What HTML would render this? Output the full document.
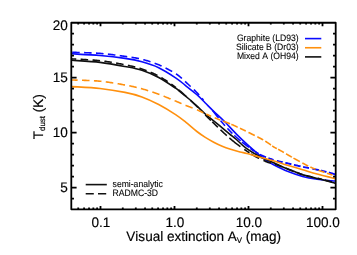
<!DOCTYPE html>
<html><head><meta charset="utf-8"><title>T_dust vs A_V</title>
<style>html,body{margin:0;padding:0;background:#fff}body{width:357px;height:255px;overflow:hidden}svg{display:block}text{font-family:"Liberation Sans",sans-serif;fill:#000;text-rendering:geometricPrecision;font-kerning:none}</style></head><body>
<svg width="357" height="255" viewBox="0 0 357 255">
<rect width="357" height="255" fill="#fff"/>
<g fill="none" stroke-width="1.6" stroke-linejoin="round">
<path d="M72.00 53.80 C76.67 54.08 91.17 54.73 100.00 55.50 C108.83 56.27 118.02 57.35 125.00 58.40 C131.98 59.45 136.28 60.25 141.90 61.80 C147.52 63.35 153.08 65.03 158.70 67.70 C164.32 70.37 171.22 74.90 175.60 77.80 C179.98 80.70 181.45 82.28 185.00 85.10 C188.55 87.92 193.52 91.72 196.90 94.70 C200.28 97.68 202.50 100.23 205.30 103.00 C208.10 105.77 210.62 108.33 213.70 111.30 C216.78 114.27 220.02 117.00 223.80 120.80 C227.58 124.60 232.42 130.08 236.40 134.10 C240.38 138.12 243.92 141.43 247.70 144.90 C251.48 148.37 256.05 152.33 259.10 154.90 C262.15 157.47 263.65 158.70 266.00 160.30 C268.35 161.90 269.63 162.67 273.20 164.50 C276.77 166.33 282.50 169.32 287.40 171.30 C292.30 173.28 297.65 175.08 302.60 176.40 C307.55 177.72 312.25 178.48 317.10 179.20 C321.95 179.92 328.62 180.40 331.70 180.70 C334.78 181.00 334.95 180.95 335.60 181.00" stroke="#0a0aff"/>
<path d="M72.18 52.31 L72.63 52.32 L73.36 52.35 L74.18 52.37 L75.08 52.40 L76.06 52.42 L77.10 52.45 L78.21 52.48 L79.37 52.51 L79.72 52.52 M84.10 52.65 L84.44 52.66 L85.78 52.71 L87.13 52.75 L88.49 52.80 L89.85 52.85 L91.21 52.91 L91.64 52.93 M96.02 53.14 L96.45 53.16 L97.68 53.24 L98.87 53.32 L100.00 53.40 L101.11 53.49 L102.21 53.58 L103.32 53.68 L103.55 53.71 M107.90 54.16 L108.86 54.26 L109.95 54.39 L111.04 54.52 L112.12 54.65 L113.19 54.79 L114.26 54.92 L115.31 55.06 L115.40 55.07 M119.74 55.66 L120.37 55.75 L121.34 55.88 L122.28 56.02 L123.21 56.15 L124.12 56.28 L125.00 56.40 L125.86 56.52 L126.69 56.64 L127.22 56.71 M131.55 57.32 L131.94 57.38 L132.62 57.48 L133.30 57.59 L133.96 57.69 L134.62 57.80 L135.28 57.91 L135.93 58.03 L136.57 58.14 L137.22 58.27 L137.87 58.39 L138.52 58.53 L138.99 58.63 M143.25 59.64 L143.30 59.66 L144.00 59.84 L144.70 60.03 L145.40 60.22 L146.10 60.41 L146.80 60.61 L147.50 60.82 L148.20 61.03 L148.90 61.24 L149.60 61.46 L150.30 61.68 L150.50 61.75 M154.63 63.18 L155.20 63.39 L155.90 63.66 L156.60 63.94 L157.30 64.22 L158.00 64.51 L158.70 64.80 L159.41 65.10 L160.13 65.42 L160.86 65.75 L161.60 66.09 L161.60 66.09 M165.54 68.00 L166.11 68.28 L166.87 68.67 L167.61 69.06 L168.35 69.45 L169.08 69.84 L169.81 70.23 L170.52 70.62 L171.22 71.01 L171.90 71.39 L172.20 71.56 M175.95 73.82 L176.13 73.94 L176.64 74.27 L177.12 74.60 L177.57 74.92 L178.01 75.23 L178.42 75.54 L178.82 75.85 L179.20 76.15 L179.56 76.45 L179.92 76.75 L180.27 77.05 L180.61 77.35 L180.95 77.65 L181.29 77.96 L181.62 78.27 L181.86 78.50 M185.08 81.47 L185.45 81.80 L185.92 82.22 L186.40 82.66 L186.89 83.11 L187.40 83.56 L187.91 84.03 L188.43 84.51 L188.96 85.00 L189.49 85.49 L190.02 85.98 L190.56 86.48 L190.65 86.57 M193.83 89.58 L194.20 89.94 L194.69 90.41 L195.17 90.87 L195.63 91.33 L196.07 91.76 L196.49 92.19 L196.90 92.60 L197.29 92.99 L197.65 93.38 L198.00 93.75 L198.34 94.10 L198.66 94.45 L198.97 94.79 L199.12 94.96 M201.96 98.29 L202.20 98.59 L202.48 98.92 L202.76 99.25 L203.05 99.60 L203.36 99.95 L203.50 100.12 M212.40 110.38 L212.62 110.65 L213.00 111.10 L213.38 111.56 L213.76 112.02 L214.15 112.49 L214.53 112.97 L214.92 113.45 L215.30 113.93 L215.69 114.42 L216.08 114.91 L216.47 115.40 L216.86 115.89 L217.25 116.38 L217.64 116.88 L218.03 117.37 L218.41 117.86 L218.50 117.96 M220.70 120.70 L220.71 120.72 L221.09 121.17 L221.46 121.62 L221.83 122.07 L222.20 122.50 L222.57 122.93 L222.93 123.35 L223.30 123.78 L223.67 124.19 L224.03 124.61 L224.40 125.02 L224.76 125.43 L225.00 125.70 M227.40 128.33 L227.62 128.56 L227.96 128.93 L228.31 129.30 L228.65 129.66 L228.98 130.01 L229.31 130.36 L229.64 130.70 L229.97 131.04 L230.29 131.37 L230.60 131.70 L230.91 132.02 L231.21 132.33 L231.50 132.63 L231.79 132.92 L232.07 133.20 L232.35 133.48 L232.40 133.53 M234.30 135.37 L234.46 135.51 L234.72 135.76 L234.98 136.00 L235.24 136.24 L235.51 136.49 L235.78 136.73 L236.05 136.98 L236.33 137.23 L236.61 137.48 L236.90 137.74 L237.20 138.00 L237.50 138.26 L237.79 138.52 L238.07 138.77 L238.36 139.02 L238.64 139.27 L238.92 139.52 L239.20 139.76 L239.48 140.00 L239.76 140.25 L240.05 140.49 L240.34 140.74 L240.60 140.96 M241.90 142.03 L242.23 142.29 L242.58 142.57 L242.94 142.85 L243.32 143.14 L243.72 143.44 L244.13 143.75 L244.55 144.07 L245.00 144.40 L245.47 144.74 L245.95 145.11 L246.46 145.48 L246.99 145.87 L247.53 146.27 L248.08 146.69 L248.65 147.11 L249.00 147.37" stroke="#0a0aff"/>
<path d="M250.40 148.39 L250.43 148.41 L251.04 148.85 L251.66 149.29 L252.28 149.74 L252.91 150.17 L253.54 150.61 L254.17 151.04 L254.20 151.06 M255.60 151.99 L256.05 152.28 L256.68 152.68 L257.29 153.06 L257.90 153.42 L258.40 153.71 M259.80 154.47 L260.27 154.72 L260.86 155.02 L261.45 155.31 L262.04 155.59 L262.62 155.86 L263.21 156.12 L263.80 156.38 L264.38 156.63 L264.97 156.87 L265.56 157.11 L266.00 157.28 M268.40 158.18 L268.49 158.21 L269.08 158.42 L269.67 158.62 L270.26 158.82 L270.84 159.02 L271.43 159.22 L272.02 159.41 L272.61 159.61 L273.20 159.80 L273.60 159.93 M276.80 160.85 L277.30 160.98 L277.89 161.13 L278.47 161.27 L279.06 161.41 L279.64 161.55 L280.23 161.69 L280.82 161.82 L281.41 161.95 L282.00 162.08 L282.59 162.21 L282.60 162.22 M285.30 162.82 L285.58 162.88 L286.18 163.02 L286.79 163.16 L287.40 163.30 L288.01 163.45 L288.63 163.59 L289.26 163.74 L289.88 163.89 L290.51 164.04 L291.15 164.19 L291.40 164.25 M293.90 164.84 L294.34 164.94 L294.98 165.09 L295.62 165.24 L296.27 165.38 L296.91 165.53 L297.55 165.68 L298.19 165.82 L298.83 165.97 L299.46 166.11 L300.10 166.25 L300.60 166.36 M303.10 166.91 L303.22 166.93 L303.83 167.06 L304.45 167.19 L305.06 167.31 L305.66 167.43 L306.27 167.55 L306.88 167.67 L307.48 167.79 L308.08 167.90 L308.69 168.02 L309.00 168.08 M312.40 168.73 L312.88 168.82 L313.48 168.94 L314.08 169.06 L314.69 169.18 L315.29 169.31 L315.89 169.44 L316.49 169.57 L317.10 169.70 L317.72 169.84 L318.35 169.98 L318.99 170.13 L319.00 170.13 M320.80 170.55 L320.99 170.60 L321.67 170.76 L322.36 170.93 L323.04 171.09 L323.72 171.26 L324.39 171.42 L325.06 171.59 L325.72 171.75 L326.37 171.91 L326.50 171.95 M328.80 172.53 L329.36 172.68 L329.88 172.81 L330.39 172.95 L330.86 173.07 L331.30 173.19 L331.70 173.30 L332.07 173.40 L332.41 173.50 L332.73 173.60 L333.01 173.69 L333.28 173.78 L333.52 173.86 L333.74 173.94 L333.94 174.01 L334.12 174.08 L334.28 174.15 L334.43 174.21 L334.56 174.28 L334.68 174.33 L334.79 174.39 L334.89 174.44 L334.99 174.49 L335.07 174.54 L335.15 174.58 L335.23 174.62 L335.30 174.66 L335.37 174.70 L335.45 174.73 L335.52 174.77 L335.60 174.80" stroke="#0a0aff" stroke-width="1.9"/>
<path d="M72.00 60.30 C76.67 60.65 91.17 61.37 100.00 62.40 C108.83 63.43 118.02 65.18 125.00 66.50 C131.98 67.82 136.28 68.47 141.90 70.30 C147.52 72.13 153.08 74.52 158.70 77.50 C164.32 80.48 172.05 85.83 175.60 88.20 C179.15 90.57 177.87 89.98 180.00 91.70 C182.13 93.42 185.58 96.10 188.40 98.50 C191.22 100.90 194.08 103.52 196.90 106.10 C199.72 108.68 202.30 111.38 205.30 114.00 C208.30 116.62 212.08 119.50 214.90 121.80 C217.72 124.10 219.78 125.80 222.20 127.80 C224.62 129.80 227.03 131.85 229.40 133.80 C231.77 135.75 233.63 137.10 236.40 139.50 C239.17 141.90 242.22 145.42 246.00 148.20 C249.78 150.98 254.57 153.80 259.10 156.20 C263.63 158.60 268.48 160.47 273.20 162.60 C277.92 164.73 283.77 167.47 287.40 169.00 C291.03 170.53 292.47 170.83 295.00 171.80 C297.53 172.77 298.92 173.70 302.60 174.80 C306.28 175.90 312.25 177.15 317.10 178.40 C321.95 179.65 328.62 181.45 331.70 182.30 C334.78 183.15 334.95 183.30 335.60 183.50" stroke="#101010"/>
<path d="M72.00 58.90 L72.63 58.94 L73.36 58.98 L74.18 59.02 L75.08 59.07 L76.06 59.12 L76.23 59.13 M80.60 59.34 L81.83 59.41 L83.12 59.47 L84.44 59.54 L85.78 59.62 L87.13 59.70 L88.14 59.76 M92.51 60.04 L92.55 60.05 L93.88 60.14 L95.18 60.25 L96.45 60.35 L97.68 60.46 L98.87 60.58 L100.00 60.70 L100.03 60.70 M104.38 61.24 L104.43 61.25 L105.54 61.40 L106.65 61.56 L107.76 61.72 L108.86 61.89 L109.95 62.06 L111.04 62.24 L111.84 62.37 M116.16 63.12 L116.35 63.15 L117.38 63.34 L118.39 63.53 L119.39 63.71 L120.37 63.90 L121.34 64.08 L122.28 64.27 L123.21 64.45 L123.58 64.52 M127.87 65.38 L128.29 65.46 L129.05 65.62 L129.80 65.78 L130.52 65.93 L131.24 66.09 L131.94 66.24 L132.62 66.40 L133.30 66.55 L133.96 66.71 L134.62 66.87 L135.24 67.03 M139.45 68.21 L139.85 68.34 L140.52 68.55 L141.20 68.77 L141.90 69.00 L142.60 69.24 L143.30 69.48 L144.00 69.72 L144.70 69.97 L145.40 70.22 L146.10 70.47 L146.60 70.66 M150.67 72.26 L151.00 72.40 L151.70 72.70 L152.40 73.00 L153.10 73.31 L153.80 73.63 L154.50 73.96 L155.20 74.30 L155.90 74.64 L156.60 74.99 L157.30 75.35 L157.51 75.46 M161.33 77.60 L161.56 77.74 L162.28 78.18 L163.01 78.63 L163.75 79.09 L164.48 79.56 L165.21 80.04 L165.94 80.52 L166.67 81.01 L167.40 81.50 L167.68 81.69 M171.26 84.20 L171.66 84.49 L172.35 84.99 L173.02 85.48 L173.68 85.97 L174.33 86.45 L174.97 86.93 L175.60 87.40 L176.00 87.70 M178.50 89.69 L178.61 89.78 L179.19 90.26 L179.76 90.75 L180.33 91.23 L180.89 91.72 L181.44 92.20 L181.99 92.68 L182.53 93.16 L183.06 93.64 L183.58 94.11 L184.10 94.58 L184.60 95.04 L185.10 95.50 L185.60 95.95 L186.00 96.32 M190.50 100.39 L190.83 100.68 L191.20 101.02 L191.56 101.34 L191.91 101.67 L192.25 101.98 L192.59 102.30 L192.93 102.61 L193.26 102.91 L193.58 103.22 L193.91 103.53 L194.23 103.83 L194.56 104.14 L194.88 104.45 L195.21 104.76 L195.54 105.08 L195.87 105.40 L196.21 105.73 L196.55 106.06 L196.90 106.40 L197.25 106.74 L197.60 107.09 L197.95 107.44 L198.00 107.49 M205.20 114.90 L205.30 115.00 L205.68 115.38 L206.06 115.76 L206.45 116.15 L206.84 116.54 L207.24 116.93 L207.64 117.33 L208.05 117.73 L208.46 118.13 L208.86 118.53 L209.28 118.93 L209.69 119.33 L210.10 119.74 L210.51 120.14 L210.90 120.52 M212.30 121.88 L212.56 122.13 L212.96 122.52 L213.36 122.91 L213.75 123.29 L214.14 123.66 L214.52 124.03 L214.90 124.40 L215.27 124.76 L215.64 125.12 L216.01 125.47 L216.37 125.82 L216.73 126.16 L217.08 126.51 L217.43 126.85 L217.79 127.19 L217.90 127.30 M220.50 129.78 L220.54 129.81 L220.88 130.14 L221.22 130.46 L221.56 130.78 L221.91 131.11 L222.25 131.43 L222.60 131.75 L222.95 132.08 L223.30 132.40 L223.65 132.73 L224.01 133.05 L224.36 133.38 L224.71 133.70 L225.07 134.03 L225.42 134.36 L225.78 134.68 L226.14 135.01 L226.49 135.33 L226.80 135.61 M229.40 137.94 L229.69 138.19 L230.05 138.50 L230.40 138.81 L230.75 139.11 L231.10 139.41 L231.45 139.71 L231.80 140.00 L232.15 140.29 L232.50 140.58 L232.85 140.87 L233.20 141.15 L233.55 141.44 L233.90 141.72 L234.25 142.00 L234.60 142.28 L234.95 142.56 L235.30 142.83 L235.65 143.11 L235.99 143.38 L236.34 143.64 L236.68 143.91 L237.03 144.17 L237.37 144.43 L237.71 144.69 L238.04 144.94 L238.38 145.19 L238.71 145.44 L239.03 145.68 L239.36 145.93 L239.68 146.16 L240.00 146.40 L240.31 146.63 L240.40 146.69 M244.30 149.41 L244.35 149.45 L244.64 149.64 L244.92 149.83 L245.21 150.02 L245.50 150.21 L245.79 150.40 L246.09 150.60 L246.39 150.79 L246.69 151.00 L247.00 151.20 L247.31 151.41 L247.62 151.61 L247.92 151.82 L248.23 152.03 L248.53 152.23 L248.84 152.44 L249.14 152.65 L249.40 152.83 M251.00 153.90 L251.01 153.91 L251.33 154.12 L251.66 154.33 L252.00 154.54 L252.34 154.76 L252.70 154.98 L253.06 155.19 L253.42 155.41 L253.80 155.63 L254.19 155.85 L254.59 156.08 L255.00 156.30 L255.43 156.53 L255.88 156.77 L256.35 157.01 L256.84 157.26 L257.34 157.52 L257.85 157.78 L258.38 158.04 L258.92 158.31 L259.10 158.40 M263.40 160.44 L263.80 160.62 L264.31 160.85 L264.81 161.07 L265.29 161.28 L265.75 161.48 L266.19 161.67 L266.61 161.84 L267.00 162.00 L267.36 162.14 L267.69 162.27 L268.00 162.37 L268.28 162.46 L268.53 162.54 L268.77 162.60 L268.99 162.66 L269.20 162.70 L269.40 162.74 L269.59 162.78 L269.78 162.80 L269.96 162.83 L270.15 162.86 L270.34 162.89 L270.54 162.92 L270.76 162.95 L270.98 162.99 L271.00 163.00 M275.00 164.22 L275.09 164.25 L275.62 164.44 L276.16 164.63 L276.73 164.84 L277.30 165.04 L277.90 165.26 L278.50 165.48 L279.11 165.71 L279.74 165.94 L280.37 166.17 L281.01 166.41 L281.65 166.65 L282.00 166.78 M286.00 168.28 L286.16 168.33 L286.78 168.57 L287.40 168.80 L288.01 169.03 L288.63 169.27 L289.26 169.51 L289.88 169.76 L290.51 170.01 L291.15 170.26 L291.78 170.52 L292.42 170.78 L293.00 171.01 M297.00 172.61 L297.55 172.82 L298.19 173.07 L298.83 173.30 L299.46 173.54 L300.10 173.77 L300.73 173.99 L301.35 174.20 L301.98 174.40 L302.60 174.60 L303.00 174.72 M306.00 175.54 L306.27 175.61 L306.88 175.75 L307.48 175.89 L308.08 176.03 L308.69 176.16 L309.29 176.29 L309.89 176.42 L310.49 176.54 L311.09 176.67 L311.69 176.79 L312.29 176.92 L312.30 176.92 M317.60 178.13 L317.72 178.16 L318.35 178.32 L318.99 178.48 L319.65 178.65 L320.32 178.83 L320.99 179.01 L321.67 179.19 L322.10 179.30 M325.00 180.08 L325.06 180.09 L325.72 180.27 L326.37 180.45 L327.00 180.62 L327.62 180.79 L328.22 180.95 L328.80 181.11 L329.36 181.26 L329.88 181.41 L330.39 181.54 L330.86 181.67 L331.30 181.79 L331.70 181.90 L332.00 181.98" stroke="#101010"/>
<path d="M72.00 86.60 C76.67 86.92 91.17 87.53 100.00 88.50 C108.83 89.47 118.02 91.00 125.00 92.40 C131.98 93.80 136.28 94.88 141.90 96.90 C147.52 98.92 153.08 101.55 158.70 104.50 C164.32 107.45 171.05 111.62 175.60 114.60 C180.15 117.58 182.45 119.58 186.00 122.40 C189.55 125.22 193.68 129.00 196.90 131.50 C200.12 134.00 202.50 135.62 205.30 137.40 C208.10 139.18 210.88 140.73 213.70 142.20 C216.52 143.67 219.38 145.03 222.20 146.20 C225.02 147.37 227.63 148.25 230.60 149.20 C233.57 150.15 237.28 151.18 240.00 151.90 C242.72 152.62 243.72 152.67 246.90 153.50 C250.08 154.33 254.72 155.68 259.10 156.90 C263.48 158.12 268.48 159.42 273.20 160.80 C277.92 162.18 282.50 163.72 287.40 165.20 C292.30 166.68 297.65 168.23 302.60 169.70 C307.55 171.17 312.25 172.67 317.10 174.00 C321.95 175.33 328.62 176.92 331.70 177.70 C334.78 178.48 334.95 178.53 335.60 178.70" stroke="#ff900e"/>
<path d="M72.00 80.00 L72.63 80.02 L73.36 80.05 L74.18 80.07 L75.08 80.10 L76.06 80.13 L77.10 80.15 L77.62 80.17 M82.00 80.29 L83.12 80.32 L84.44 80.36 L85.78 80.41 L87.13 80.45 L88.49 80.51 L89.55 80.55 M93.92 80.76 L95.18 80.84 L96.45 80.92 L97.68 81.01 L98.87 81.10 L100.00 81.20 L101.11 81.31 L101.45 81.34 M105.80 81.86 L106.65 81.97 L107.76 82.12 L108.86 82.27 L109.95 82.43 L111.04 82.60 L112.12 82.77 L113.19 82.94 L113.27 82.95 M117.59 83.67 L118.39 83.81 L119.39 83.99 L120.37 84.16 L121.34 84.34 L122.28 84.51 L123.21 84.68 L124.12 84.84 L125.00 85.00 L125.02 85.00 M129.32 85.82 L129.80 85.91 L130.52 86.06 L131.24 86.20 L131.94 86.35 L132.62 86.50 L133.30 86.64 L133.96 86.79 L134.62 86.94 L135.28 87.10 L135.93 87.25 L136.57 87.41 L136.70 87.44 M140.94 88.54 L141.20 88.61 L141.90 88.80 L142.60 89.00 L143.30 89.19 L144.00 89.40 L144.70 89.60 L145.40 89.81 L146.10 90.02 L146.80 90.24 L147.50 90.46 L148.18 90.67 M152.34 92.05 L152.40 92.07 L153.10 92.31 L153.80 92.55 L154.50 92.79 L155.20 93.04 L155.90 93.29 L156.60 93.54 L157.30 93.79 L158.00 94.04 L158.70 94.30 L159.41 94.56 L159.45 94.58 M163.54 96.15 L163.85 96.27 L164.60 96.57 L165.36 96.88 L166.11 97.18 L166.87 97.49 L167.61 97.79 L168.35 98.10 L169.08 98.40 L169.81 98.70 L170.52 98.99 L170.53 99.00 M174.57 100.68 L175.04 100.87 L175.60 101.10 L176.13 101.32 L176.64 101.53 L177.12 101.73 L177.57 101.92 L178.01 102.10 L178.42 102.28 L178.82 102.45 L179.20 102.61 L179.56 102.77 L179.92 102.93 L180.27 103.08 L180.61 103.23 L180.95 103.38 L181.29 103.53 L181.52 103.63 M185.56 105.33 L185.89 105.46 L186.33 105.63 L186.78 105.81 L187.23 105.98 L187.68 106.16 L188.14 106.33 L188.60 106.51 L189.06 106.68 L189.53 106.86 L190.01 107.04 L190.49 107.22 L190.97 107.41 L191.47 107.60 L191.97 107.79 L192.48 107.99 L192.60 108.04 M197.00 109.84 L197.51 110.06 L198.13 110.33 L198.76 110.62 L199.42 110.91 L200.08 111.21 L200.75 111.52 L201.44 111.83 L202.13 112.16 L202.84 112.48 L203.30 112.70 M206.30 114.09 L206.44 114.16 L207.18 114.50 L207.91 114.83 L208.65 115.17 L209.38 115.50 L210.11 115.83 L210.84 116.16 L211.20 116.32 M214.70 117.82 L215.13 117.99 L215.86 118.29 L216.60 118.58 L217.34 118.88 L218.09 119.17 L218.85 119.47 L219.60 119.76 L220.30 120.03 M223.00 121.05 L223.35 121.19 L224.08 121.46 L224.81 121.74 L225.52 122.01 L226.22 122.27 L226.90 122.54 L227.57 122.79 L228.22 123.04 L228.85 123.29 L229.45 123.53 L230.04 123.77 L230.10 123.79 M231.40 124.33 L231.65 124.44 L232.15 124.65 L232.63 124.86 L233.09 125.06 L233.54 125.26 L233.97 125.45 L234.38 125.64 L234.78 125.82 L235.17 126.01 L235.55 126.18 L235.93 126.36 L236.29 126.53 L236.64 126.70 L236.99 126.86 L237.33 127.03 L237.67 127.19 L237.70 127.20 M240.00 128.30 L240.33 128.45 L240.63 128.59 L240.91 128.72 L241.18 128.85 L241.43 128.96 L241.67 129.07 L241.90 129.18 L242.12 129.28 L242.34 129.38 L242.55 129.48 L242.77 129.58 L242.99 129.68 L243.21 129.79 L243.45 129.90 L243.70 130.02 L243.96 130.14 L244.24 130.28 L244.54 130.43 L244.86 130.58 L245.21 130.75 L245.58 130.94 L245.80 131.05 M248.50 132.40 L248.58 132.44 L249.21 132.75 L249.88 133.08 L250.58 133.43 L251.30 133.79 L252.04 134.16 L252.80 134.53 L253.57 134.92 L254.35 135.31 L254.80 135.54 M257.30 136.80 L257.50 136.90 L258.27 137.30 L259.04 137.69 L259.78 138.08 L260.51 138.46 L261.21 138.83 L261.88 139.19 L262.52 139.54 L263.13 139.88 L263.20 139.92 M265.30 141.15 L265.73 141.42 L266.19 141.72 L266.64 142.01 L267.07 142.30 L267.49 142.59 L267.89 142.87 L268.28 143.14 L268.66 143.42 L269.04 143.69 L269.40 143.95 L269.76 144.21 L270.11 144.47 L270.46 144.73 L270.80 144.98 L270.90 145.05 M272.20 145.95 L272.51 146.16 L272.85 146.38 L273.20 146.60 L273.55 146.81 L273.89 147.02 L274.23 147.21 L274.56 147.41 L274.89 147.59 L275.21 147.77 L275.53 147.94 L275.84 148.11 L276.16 148.28 L276.46 148.44 L276.77 148.59 L276.80 148.61 M278.10 149.28 L278.26 149.36 L278.55 149.51 L278.84 149.66 L279.13 149.81 L279.43 149.96 L279.72 150.12 L280.01 150.27 L280.30 150.44 L280.60 150.60 L280.89 150.77 L281.18 150.93 L281.47 151.10 L281.76 151.26 L282.04 151.42 L282.32 151.59 L282.59 151.75 L282.87 151.91 L283.15 152.08 L283.42 152.24 L283.69 152.40 L283.90 152.53 M286.00 153.78 L286.21 153.90 L286.50 154.08 L286.80 154.25 L287.10 154.42 L287.40 154.60 L287.71 154.78 L288.02 154.96 L288.34 155.14 L288.66 155.33 L288.98 155.51 L289.31 155.70 L289.64 155.89 L289.97 156.08 L290.31 156.27 L290.64 156.46 L290.98 156.66 L291.32 156.85 L291.66 157.04 L291.90 157.18 M293.50 158.09 L293.67 158.19 L294.01 158.37 L294.33 158.56 L294.66 158.74 L294.98 158.92 L295.30 159.10 L295.62 159.28 L295.93 159.45 L296.24 159.63 L296.55 159.80 L296.86 159.97 L297.17 160.14 L297.48 160.31 L297.78 160.48 L298.09 160.65 L298.39 160.82 L298.69 160.98 L298.99 161.15 L299.30 161.32 L299.60 161.48 L299.80 161.59 M302.30 162.94 L302.60 163.10 L302.90 163.26 L303.20 163.42 L303.50 163.58 L303.80 163.74 L304.10 163.90 L304.40 164.06 L304.70 164.22 L305.00 164.38 L305.30 164.54 L305.60 164.70 L305.90 164.86 L306.20 165.01 L306.50 165.17 L306.80 165.32 L307.10 165.48 L307.40 165.63 L307.70 165.78 L308.00 165.93 L308.20 166.03 M310.30 167.03 L310.40 167.08 L310.71 167.21 L311.01 167.35 L311.31 167.48 L311.62 167.61 L311.92 167.74 L312.23 167.87 L312.53 168.00 L312.83 168.12 L313.14 168.25 L313.44 168.38 L313.75 168.50 L314.05 168.62 L314.36 168.74 L314.66 168.86 L314.97 168.98 L315.27 169.10 L315.50 169.19 M318.50 170.31 L318.55 170.33 L318.83 170.43 L319.11 170.52 L319.39 170.62 L319.67 170.71 L319.94 170.81 L320.22 170.90 L320.51 170.99 L320.79 171.09 L321.08 171.18 L321.38 171.28 L321.68 171.38 L321.99 171.48 L322.30 171.59 L322.62 171.70 L322.96 171.81 L323.30 171.92 L323.66 172.04 L324.02 172.17 L324.40 172.30 L324.50 172.33 M327.00 173.20 L327.19 173.27 L327.72 173.45 L328.26 173.64 L328.81 173.83 L329.36 174.02 L329.91 174.22 L330.46 174.41 L331.00 174.60 L331.53 174.78 L332.05 174.96 L332.50 175.12" stroke="#ff900e"/>
</g>
<g stroke="#000" stroke-width="1.8" fill="none" stroke-linejoin="round">
<rect x="71.30" y="22.75" width="264.40" height="186.55"/>
</g>
<path stroke="#000" stroke-width="1.8" fill="none" d="M78.22 209.30 L78.22 207.60 M78.22 22.75 L78.22 24.45 M84.08 209.30 L84.08 207.60 M84.08 22.75 L84.08 24.45 M89.04 209.30 L89.04 207.60 M89.04 22.75 L89.04 24.45 M93.33 209.30 L93.33 207.60 M93.33 22.75 L93.33 24.45 M97.11 209.30 L97.11 207.60 M97.11 22.75 L97.11 24.45 M100.50 209.30 L100.50 205.90 M100.50 22.75 L100.50 26.15 M122.78 209.30 L122.78 207.60 M122.78 22.75 L122.78 24.45 M135.81 209.30 L135.81 207.60 M135.81 22.75 L135.81 24.45 M145.05 209.30 L145.05 207.60 M145.05 22.75 L145.05 24.45 M152.22 209.30 L152.22 207.60 M152.22 22.75 L152.22 24.45 M158.08 209.30 L158.08 207.60 M158.08 22.75 L158.08 24.45 M163.04 209.30 L163.04 207.60 M163.04 22.75 L163.04 24.45 M167.33 209.30 L167.33 207.60 M167.33 22.75 L167.33 24.45 M171.11 209.30 L171.11 207.60 M171.11 22.75 L171.11 24.45 M174.50 209.30 L174.50 205.90 M174.50 22.75 L174.50 26.15 M196.78 209.30 L196.78 207.60 M196.78 22.75 L196.78 24.45 M209.81 209.30 L209.81 207.60 M209.81 22.75 L209.81 24.45 M219.05 209.30 L219.05 207.60 M219.05 22.75 L219.05 24.45 M226.22 209.30 L226.22 207.60 M226.22 22.75 L226.22 24.45 M232.08 209.30 L232.08 207.60 M232.08 22.75 L232.08 24.45 M237.04 209.30 L237.04 207.60 M237.04 22.75 L237.04 24.45 M241.33 209.30 L241.33 207.60 M241.33 22.75 L241.33 24.45 M245.11 209.30 L245.11 207.60 M245.11 22.75 L245.11 24.45 M248.50 209.30 L248.50 205.90 M248.50 22.75 L248.50 26.15 M270.78 209.30 L270.78 207.60 M270.78 22.75 L270.78 24.45 M283.81 209.30 L283.81 207.60 M283.81 22.75 L283.81 24.45 M293.05 209.30 L293.05 207.60 M293.05 22.75 L293.05 24.45 M300.22 209.30 L300.22 207.60 M300.22 22.75 L300.22 24.45 M306.08 209.30 L306.08 207.60 M306.08 22.75 L306.08 24.45 M311.04 209.30 L311.04 207.60 M311.04 22.75 L311.04 24.45 M315.33 209.30 L315.33 207.60 M315.33 22.75 L315.33 24.45 M319.11 209.30 L319.11 207.60 M319.11 22.75 L319.11 24.45 M322.50 209.30 L322.50 205.90 M322.50 22.75 L322.50 26.15 M71.30 198.55 L73.95 198.55 M335.70 198.55 L333.05 198.55 M71.30 187.55 L76.60 187.55 M335.70 187.55 L330.40 187.55 M71.30 176.55 L73.95 176.55 M335.70 176.55 L333.05 176.55 M71.30 165.55 L73.95 165.55 M335.70 165.55 L333.05 165.55 M71.30 154.55 L73.95 154.55 M335.70 154.55 L333.05 154.55 M71.30 143.55 L73.95 143.55 M335.70 143.55 L333.05 143.55 M71.30 132.55 L76.60 132.55 M335.70 132.55 L330.40 132.55 M71.30 121.55 L73.95 121.55 M335.70 121.55 L333.05 121.55 M71.30 110.55 L73.95 110.55 M335.70 110.55 L333.05 110.55 M71.30 99.55 L73.95 99.55 M335.70 99.55 L333.05 99.55 M71.30 88.55 L73.95 88.55 M335.70 88.55 L333.05 88.55 M71.30 77.55 L76.60 77.55 M335.70 77.55 L330.40 77.55 M71.30 66.55 L73.95 66.55 M335.70 66.55 L333.05 66.55 M71.30 55.55 L73.95 55.55 M335.70 55.55 L333.05 55.55 M71.30 44.55 L73.95 44.55 M335.70 44.55 L333.05 44.55 M71.30 33.55 L73.95 33.55 M335.70 33.55 L333.05 33.55"/>
<g style="will-change:transform" stroke="#000" stroke-width="1.7000000000000002">
<text transform="translate(100.80 226.80) rotate(0.02) scale(0.09720 0.10000)" text-anchor="middle" font-size="139.0">0.1</text>
<text transform="translate(174.80 226.80) rotate(0.02) scale(0.09720 0.10000)" text-anchor="middle" font-size="139.0">1.0</text>
<text transform="translate(248.80 226.80) rotate(0.02) scale(0.09720 0.10000)" text-anchor="middle" font-size="139.0">10.0</text>
<text transform="translate(322.80 226.80) rotate(0.02) scale(0.09720 0.10000)" text-anchor="middle" font-size="139.0">100.0</text>
<text transform="translate(67.70 191.85) rotate(0.02) scale(0.09720 0.10000)" text-anchor="end" font-size="139.0">5</text>
<text transform="translate(67.70 136.85) rotate(0.02) scale(0.09720 0.10000)" text-anchor="end" font-size="139.0">10</text>
<text transform="translate(67.70 81.85) rotate(0.02) scale(0.09720 0.10000)" text-anchor="end" font-size="139.0">15</text>
<text transform="translate(67.70 30.45) rotate(0.02) scale(0.09720 0.10000)" text-anchor="end" font-size="139.0">20</text>
<text transform="translate(203.70 241.20) rotate(0.02) scale(0.09720 0.10000)" text-anchor="middle" font-size="139.0">Visual extinction A<tspan font-size="81.0" dy="21.0">V</tspan><tspan dy="-21.0"> (mag)</tspan></text>
<text transform="translate(42.90 116.70) rotate(-90) scale(0.09720 0.10000)" text-anchor="middle" font-size="139.0">T<tspan font-size="81.0" dy="25.0">dust</tspan><tspan dy="-25.0"> (K)</tspan></text>
</g>
<g style="will-change:transform" stroke="#000" stroke-width="0.8999999999999999">
<text transform="translate(298.60 41.10) rotate(0.02) scale(0.09150 0.10000)" text-anchor="end" font-size="94.0">Graphite (LD93)</text>
<text transform="translate(298.60 50.00) rotate(0.02) scale(0.09150 0.10000)" text-anchor="end" font-size="94.0">Silicate B (Dr03)</text>
<text transform="translate(298.60 58.90) rotate(0.02) scale(0.09150 0.10000)" text-anchor="end" font-size="94.0">Mixed A (OH94)</text>
<text transform="translate(112.60 187.00) rotate(0.02) scale(0.09150 0.10000)" text-anchor="start" font-size="94.0">semi-analytic</text>
<text transform="translate(112.60 196.10) rotate(0.02) scale(0.09150 0.10000)" text-anchor="start" font-size="94.0">RADMC-3D</text>
</g>
<g fill="none" stroke-width="1.6">
<path d="M305 38.60 H321.3" stroke="#0a0aff"/>
<path d="M305 47.75 H321.3" stroke="#ff900e"/>
<path d="M305 56.90 H321.3" stroke="#101010"/>
<path d="M85.7 184.6 H106.8" stroke="#111"/>
<path d="M85.7 193.7 H93.8 M98.0 193.7 H106.2" stroke="#111"/>
</g>
</svg></body></html>
